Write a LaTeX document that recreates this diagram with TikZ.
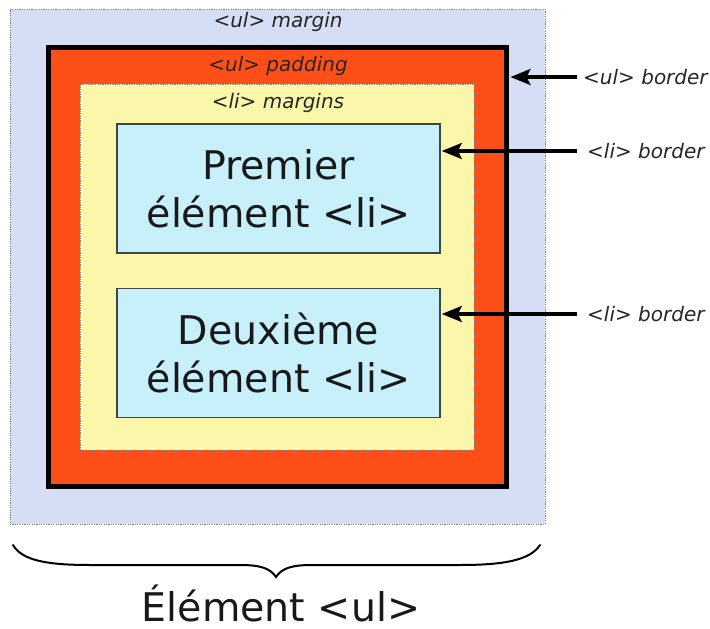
\documentclass[tikz,border=0pt]{standalone}
\usepackage{fontspec}
\setmainfont{DejaVu Sans}
\usetikzlibrary{arrows.meta}
\definecolor{marginblue}{RGB}{213,222,245}
\definecolor{padorange}{RGB}{255,79,25}
\definecolor{liyellow}{RGB}{250,246,170}
\definecolor{licyan}{RGB}{200,240,250}
\definecolor{dotgray}{RGB}{130,130,130}
\definecolor{boxgray}{RGB}{60,70,70}
\tikzset{
  box/.style={rectangle, inner sep=0pt, anchor=center},
  dotbox/.style={box, draw=dotgray, line width=0.9pt, dash pattern=on 1.2pt off 1.2pt},
  itembox/.style={box, fill=licyan, draw=boxgray, line width=1.6pt, minimum width=323pt, minimum height=129pt,
     font=\fontsize{39.5}{48}\selectfont, align=center, text=black!90},
  lbl/.style={font=\fontsize{20}{22}\selectfont\itshape, text=black!85, inner sep=0pt},
  arr/.style={line width=3.4pt, -{Stealth[length=20pt,width=16pt,inset=4pt]}},
}
\begin{document}
\begin{tikzpicture}[x=1pt,y=-1pt]
\useasboundingbox (0,0) rectangle (710,629);
\node[dotbox, fill=marginblue, minimum width=535pt, minimum height=515pt] (margin) at (277.5,266.5) {};
\node[box, fill=padorange, draw=black, line width=5pt, minimum width=458pt, minimum height=439pt] (ul) at (277,266.5) {};
\node[dotbox, fill=liyellow, minimum width=394pt, minimum height=366pt] (li) at (277,267) {};
\node[itembox] (item1) at (278.5,188.5) {Premier\\élément <li>};
\node[itembox] (item2) at (278.5,353) {Deuxième\\élément <li>};
\node[lbl] (mlbl) at (278,22) {<ul> margin};
\node[lbl] (plbl) at (278,66) {<ul> padding};
\node[lbl] (llbl) at (278,103) {<li> margins};
\node[lbl, anchor=west] (ubl) at (583,77) {<ul> border};
\node[lbl, anchor=west] (lb1) at (587,151) {<li> border};
\node[lbl, anchor=west] (lb2) at (587,314) {<li> border};
\draw[arr] ([xshift=-6pt]ubl.west) -- ([xshift=2pt]ul.east |- ubl.west);
\draw[arr] ([xshift=-10pt]lb1.west) -- ([xshift=1pt]item1.east |- lb1.west);
\draw[arr] ([xshift=-10pt]lb2.west) -- ([xshift=1pt]item2.east |- lb2.west);
\draw[line width=2pt, line cap=round]
  (13,545) .. controls (22,560) and (45,565) .. (90,565)
  -- (240,565) .. controls (260,565) and (270,568) .. (276,577)
  .. controls (282,568) and (292,565) .. (312,565)
  -- (460,565) .. controls (505,565) and (530,560) .. (540,545);
\node[font=\fontsize{39.5}{44}\selectfont, text=black!90, inner sep=0pt, anchor=base] (title) at (281,621) {Élément <ul>};
\end{tikzpicture}
\end{document}
